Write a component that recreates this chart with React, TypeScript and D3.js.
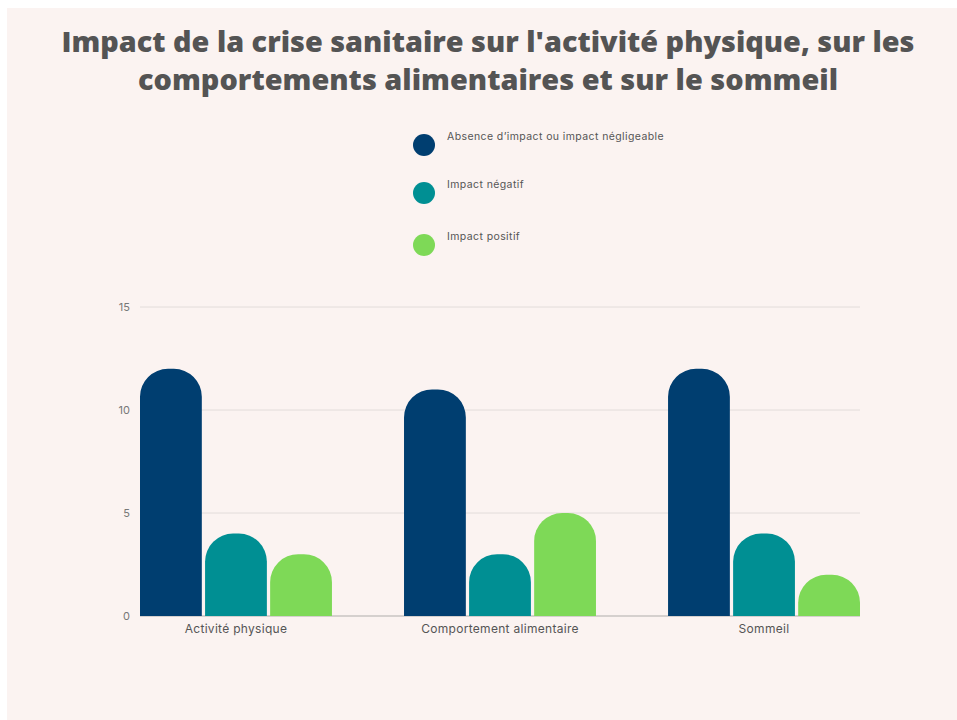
import * as d3 from 'd3';
import React from 'react';

const categories = ['Activité physique', 'Comportement alimentaire', 'Sommeil'];
const seriesNames = ['Absence d\u2019impact ou impact négligeable', 'Impact négatif', 'Impact positif'];
const absence = [12, 11, 12];
const negatif = [4, 3, 4];
const positif = [3, 5, 2];
const yTicks = [0, 5, 10, 15];
const colors = ['#003e70', '#008f93', '#7ed957'];

const W = 957;
const H = 720;

// rounded-top bar
function barPath(x: number, y: number, w: number, h: number, r: number) {
  const rr = Math.min(r, h, w / 2);
  return `M${x},${y + h}V${y + rr}A${rr},${rr} 0 0 1 ${x + rr},${y}H${x + w - rr}A${rr},${rr} 0 0 1 ${x + w},${y + rr}V${y + h}Z`;
}

const App: React.FC = () => {
  const series = [absence, negatif, positif];

  const x0 = d3.scaleBand<string>().domain(categories).range([140, 860]).paddingInner(0.273).paddingOuter(0);
  const x1 = d3.scaleBand<number>().domain([0, 1, 2]).range([0, x0.bandwidth()]).paddingInner(0.05);
  const y = d3.scaleLinear().domain([0, 15]).range([616, 307]);

  return (
    <svg width={W} height={H} style={{ position: 'fixed', left: 0, top: 0 }}>
      <rect x={0} y={0} width={W} height={H} fill="#ffffff" />
      <rect x={7} y={8} width={W - 7} height={H - 8} fill="#fbf3f1" />

      <text x={488} y={52} textAnchor="middle" fontFamily="'Open Sans', sans-serif" fontWeight={800}
        fontSize={28} fill="#545454" textLength={853} lengthAdjust="spacingAndGlyphs">
        Impact de la crise sanitaire sur l'activité physique, sur les
      </text>
      <text x={488} y={90} textAnchor="middle" fontFamily="'Open Sans', sans-serif" fontWeight={800}
        fontSize={28} fill="#545454" textLength={700} lengthAdjust="spacingAndGlyphs">
        comportements alimentaires et sur le sommeil
      </text>

      {/* legend */}
      {seriesNames.map((name, i) => {
        const cy = [145, 193, 245][i];
        return (
          <g key={name}>
            <circle cx={424} cy={cy} r={11} fill={colors[i]} />
            <text x={447} y={cy - 5} fontFamily="Inter, sans-serif" fontSize={10.5} letterSpacing={0.4} fill="#555">
              {name}
            </text>
          </g>
        );
      })}

      {/* grid */}
      {yTicks.map((t) => (
        <g key={t}>
          <line x1={140} x2={860} y1={y(t)} y2={y(t)} stroke={t === 0 ? '#c9c4c2' : '#e2dcda'} strokeWidth={t === 0 ? 1.5 : 1} />
          <text x={130} y={y(t)} dy="0.35em" textAnchor="end" fontFamily="Inter, sans-serif" fontSize={11} fill="#777">
            {t}
          </text>
        </g>
      ))}

      {/* bars */}
      {categories.map((c, ci) => (
        <g key={c}>
          {series.map((s, si) => {
            const bx = (x0(c) ?? 0) + (x1(si) ?? 0);
            const by = y(s[ci]);
            return (
              <path key={si} d={barPath(bx, by, x1.bandwidth(), y(0) - by, 28)} fill={colors[si]} />
            );
          })}
          <text x={(x0(c) ?? 0) + x0.bandwidth() / 2} y={629} dy="0.35em" textAnchor="middle"
            fontFamily="Inter, sans-serif" fontSize={12} letterSpacing={0.3} fill="#555">
            {c}
          </text>
        </g>
      ))}
    </svg>
  );
};

export default App;
